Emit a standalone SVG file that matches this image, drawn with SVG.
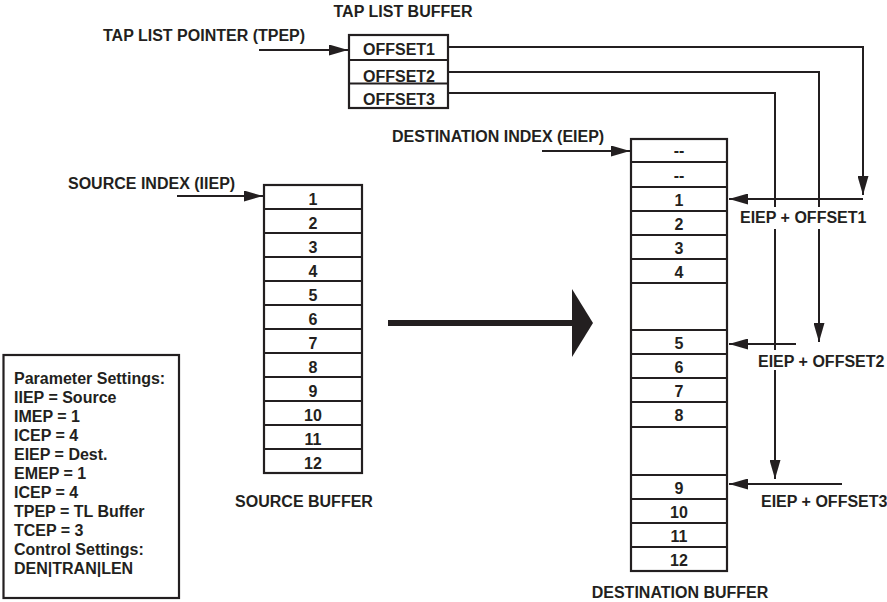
<svg xmlns="http://www.w3.org/2000/svg" width="887" height="602" viewBox="0 0 887 602">
<defs>
<style>
text{font-family:"Liberation Sans",Arial,sans-serif;font-weight:bold;font-size:16px;fill:#231f20}
.c{text-anchor:middle}
.box{fill:#fff;stroke:#231f20;stroke-width:2.2}
.div{stroke:#231f20;stroke-width:2.2}
.ln{fill:none;stroke:#231f20;stroke-width:2}
.bg{fill:#fff}
</style>
<marker id="ah" markerUnits="userSpaceOnUse" markerWidth="19" markerHeight="11" refX="19" refY="5.5" orient="auto">
<path d="M0,0 L19,5.5 L0,11 z" fill="#231f20"/>
</marker>
</defs>
<rect width="887" height="602" fill="#fff"/>

<g id="tap-list-buffer">
<text class="c" x="403" y="17">TAP LIST BUFFER</text>
<rect class="box" x="349" y="35" width="99" height="73"/>
<line class="div" x1="349" y1="60" x2="448" y2="60"/>
<line class="div" x1="349" y1="83.5" x2="448" y2="83.5"/>
<text class="c" x="399" y="55">OFFSET1</text>
<text class="c" x="399" y="81.5">OFFSET2</text>
<text class="c" x="399" y="104.5">OFFSET3</text>
</g>

<g id="source-buffer">
<rect class="box" x="264" y="185" width="98" height="288"/>
<g class="div">
<line x1="264" y1="209" x2="362" y2="209"/>
<line x1="264" y1="233" x2="362" y2="233"/>
<line x1="264" y1="257" x2="362" y2="257"/>
<line x1="264" y1="281" x2="362" y2="281"/>
<line x1="264" y1="305" x2="362" y2="305"/>
<line x1="264" y1="329" x2="362" y2="329"/>
<line x1="264" y1="353" x2="362" y2="353"/>
<line x1="264" y1="377" x2="362" y2="377"/>
<line x1="264" y1="401" x2="362" y2="401"/>
<line x1="264" y1="425" x2="362" y2="425"/>
<line x1="264" y1="449" x2="362" y2="449"/>
</g>
<text class="c" x="313" y="204.5">1</text>
<text class="c" x="313" y="228.5">2</text>
<text class="c" x="313" y="252.5">3</text>
<text class="c" x="313" y="276.5">4</text>
<text class="c" x="313" y="300.5">5</text>
<text class="c" x="313" y="324.5">6</text>
<text class="c" x="313" y="348.5">7</text>
<text class="c" x="313" y="372.5">8</text>
<text class="c" x="313" y="396.5">9</text>
<text class="c" x="313" y="420.5">10</text>
<text class="c" x="313" y="444.5">11</text>
<text class="c" x="313" y="468.5">12</text>
<text class="c" x="304" y="507">SOURCE BUFFER</text>
</g>

<g id="destination-buffer">
<rect class="box" x="631" y="139" width="96" height="432"/>
<g class="div">
<line x1="631" y1="162" x2="727" y2="162"/>
<line x1="631" y1="187" x2="727" y2="187"/>
<line x1="631" y1="211" x2="727" y2="211"/>
<line x1="631" y1="235" x2="727" y2="235"/>
<line x1="631" y1="259" x2="727" y2="259"/>
<line x1="631" y1="283" x2="727" y2="283"/>
<line x1="631" y1="330" x2="727" y2="330"/>
<line x1="631" y1="354" x2="727" y2="354"/>
<line x1="631" y1="378" x2="727" y2="378"/>
<line x1="631" y1="402" x2="727" y2="402"/>
<line x1="631" y1="427" x2="727" y2="427"/>
<line x1="631" y1="475" x2="727" y2="475"/>
<line x1="631" y1="499" x2="727" y2="499"/>
<line x1="631" y1="523" x2="727" y2="523"/>
<line x1="631" y1="547" x2="727" y2="547"/>
</g>
<text class="c" x="679" y="156">--</text>
<text class="c" x="679" y="181">--</text>
<text class="c" x="679" y="205.5">1</text>
<text class="c" x="679" y="229.5">2</text>
<text class="c" x="679" y="253.5">3</text>
<text class="c" x="679" y="277.5">4</text>
<text class="c" x="679" y="348.5">5</text>
<text class="c" x="679" y="372.5">6</text>
<text class="c" x="679" y="396.5">7</text>
<text class="c" x="679" y="421">8</text>
<text class="c" x="679" y="493.5">9</text>
<text class="c" x="679" y="517.5">10</text>
<text class="c" x="679" y="541.5">11</text>
<text class="c" x="679" y="565.5">12</text>
<text class="c" x="680" y="598">DESTINATION BUFFER</text>
</g>

<g id="parameter-settings">
<rect class="box" x="3.5" y="355" width="175.5" height="243"/>
<text x="14" y="384">Parameter Settings:</text>
<text x="14" y="403">IIEP = Source</text>
<text x="14" y="422">IMEP = 1</text>
<text x="14" y="441">ICEP = 4</text>
<text x="14" y="460">EIEP  = Dest.</text>
<text x="14" y="479" xml:space="preserve">EMEP = 1</text>
<text x="14" y="498">ICEP = 4</text>
<text x="14" y="517">TPEP = TL Buffer</text>
<text x="14" y="536">TCEP = 3</text>
<text x="14" y="555">Control Settings:</text>
<text x="14" y="574">DEN|TRAN|LEN</text>
</g>

<g id="pointer-labels">
<text x="103" y="41">TAP LIST POINTER (TPEP)</text>
<text x="392" y="141.5">DESTINATION INDEX (EIEP)</text>
<text x="68" y="188.5">SOURCE INDEX (IIEP)</text>
</g>

<g id="connectors">
<line class="ln" x1="259" y1="50" x2="348" y2="50" marker-end="url(#ah)"/>
<line class="ln" x1="542" y1="151" x2="630" y2="151" marker-end="url(#ah)"/>
<line class="ln" x1="177" y1="196" x2="263" y2="196" marker-end="url(#ah)"/>
<polyline class="ln" points="448,47 863,47 863,195" marker-end="url(#ah)"/>
<polyline class="ln" points="448,72 819,72 819,342" marker-end="url(#ah)"/>
<polyline class="ln" points="448,93 775,93 775,479" marker-end="url(#ah)"/>
<line class="ln" x1="863" y1="199" x2="729" y2="199" marker-end="url(#ah)"/>
<line class="ln" x1="796" y1="344" x2="729" y2="344" marker-end="url(#ah)"/>
<line class="ln" x1="842" y1="484" x2="729" y2="484" marker-end="url(#ah)"/>
<line x1="388" y1="323" x2="574" y2="323" stroke="#231f20" stroke-width="6"/>
<path d="M572,289 L593,323 L572,357 z" fill="#231f20"/>
</g>

<g id="offset-labels">
<rect class="bg" x="737" y="207" width="131" height="22"/>
<text x="740" y="223">EIEP + OFFSET1</text>
<rect class="bg" x="755" y="350" width="130" height="20"/>
<text x="758" y="366.5">EIEP + OFFSET2</text>
<text x="761" y="507">EIEP + OFFSET3</text>
</g>
</svg>
